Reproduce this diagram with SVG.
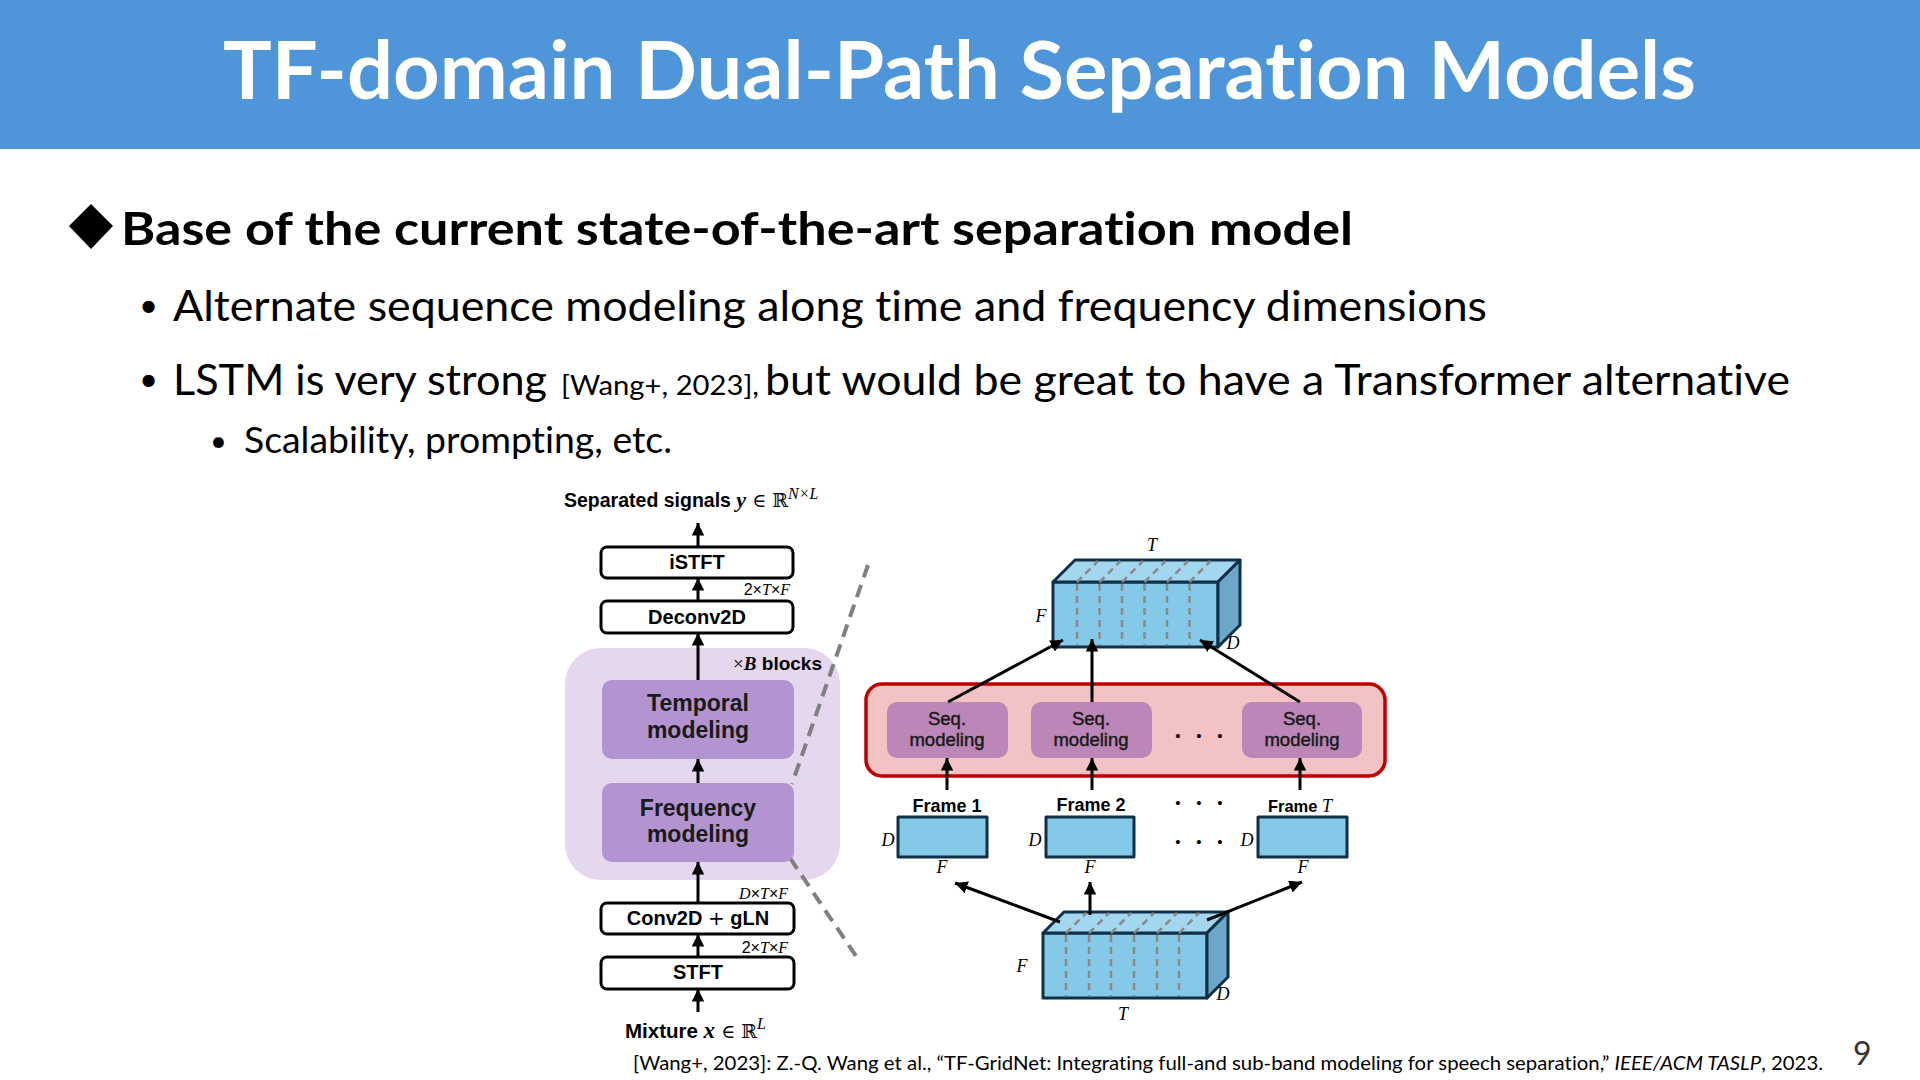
<svg xmlns="http://www.w3.org/2000/svg" width="1920" height="1080" viewBox="0 0 1920 1080">
<defs>
<marker id="ah" viewBox="0 0 10 10" refX="10" refY="5" markerWidth="4.2" markerHeight="4.2" orient="auto" markerUnits="strokeWidth"><path d="M0,0 L10,5 L0,10 z" fill="#000"/></marker>
<style>
.slide{font-family:Lato,"Open Sans","Liberation Sans",sans-serif;fill:#000;font-variant-ligatures:none;font-feature-settings:"liga" 0,"dlig" 0}
.dg{font-family:"Liberation Sans",Arial,sans-serif;fill:#000}
.b{font-weight:bold}
.m{font-family:"Liberation Serif","Times New Roman",serif;font-style:italic}
.box{fill:#fff;stroke:#000;stroke-width:3}
.blk{fill:#B194D0}
.seq{fill:#BC86B8}
.st{fill:#1a1a1a;stroke:#1a1a1a;stroke-width:0.45}
.face{stroke:#0E3147;stroke-width:3;stroke-linejoin:round}
.dash{stroke:#8A8A8A;stroke-width:2.5;stroke-dasharray:7 5;fill:none}
.arr{stroke:#000;stroke-width:3;fill:none;marker-end:url(#ah)}
.div{stroke:#808080;stroke-width:4;stroke-dasharray:13 8;fill:none}
.dot{font-family:"Liberation Sans",Arial,sans-serif;font-size:15px;fill:#000}
</style>
</defs>
<rect width="1920" height="1080" fill="#fff"/>
<g id="header">
<rect x="0" y="0" width="1920" height="149" fill="#4F95D9"/>
<text class="slide b" x="223" y="99" font-size="80" style="fill:#fff" textLength="1473" lengthAdjust="spacingAndGlyphs">TF-domain Dual-Path Separation Models</text>
</g>
<g id="bullets">
<polygon points="91,204 113,226 91,249 69,226" fill="#000"/>
<text class="slide b" x="121" y="245" font-size="45" textLength="1232" lengthAdjust="spacingAndGlyphs">Base of the current state-of-the-art separation model</text>
<text class="slide" x="139" y="317" font-size="33">•</text>
<text class="slide" x="173" y="321" font-size="43" textLength="1314" lengthAdjust="spacingAndGlyphs">Alternate sequence modeling along time and frequency dimensions</text>
<text class="slide" x="139" y="391" font-size="33">•</text>
<text class="slide" x="173" y="395" font-size="43" textLength="374" lengthAdjust="spacingAndGlyphs">LSTM is very strong</text>
<text class="slide" x="561" y="395" font-size="26" textLength="198" lengthAdjust="spacingAndGlyphs">[Wang+, 2023],</text>
<text class="slide" x="765" y="395" font-size="43" textLength="1025" lengthAdjust="spacingAndGlyphs">but would be great to have a Transformer alternative</text>
<text class="slide" x="210" y="451" font-size="29">•</text>
<text class="slide" x="244" y="453" font-size="36" textLength="428" lengthAdjust="spacingAndGlyphs">Scalability, prompting, etc.</text>
</g>
<g id="footnote">
<text class="slide" x="633" y="1070" font-size="20" textLength="1190" lengthAdjust="spacingAndGlyphs">[Wang+, 2023]: Z.-Q. Wang et al., “TF-GridNet: Integrating full-and sub-band modeling for speech separation,” <tspan font-style="italic">IEEE/ACM TASLP</tspan>, 2023.</text>
<text class="slide" x="1853" y="1065" font-size="32" style="fill:#333">9</text>
</g>

<g id="blocks-bg">
<rect x="565" y="648" width="275" height="232" rx="36" fill="#E4D7EE"/>
<text class="dg b" x="822" y="670" font-size="19" text-anchor="end"><tspan font-family="Liberation Serif" font-weight="normal">×</tspan><tspan class="m b">B</tspan> blocks</text>
</g>

<g id="dividers">
<line class="div" x1="868" y1="565" x2="792" y2="784"/>
<line class="div" x1="790" y1="858" x2="860" y2="962"/>
</g>

<g id="label-out">
<text class="dg b" x="564" y="507" font-size="19.5">Separated signals <tspan class="m b" font-size="22">y</tspan><tspan font-family="DejaVu Serif" font-weight="normal" font-size="19"> ∈ ℝ</tspan><tspan class="m" font-weight="normal" font-size="16" dy="-8">N×L</tspan></text>
</g>
<g id="istft">
<rect class="box" x="601" y="547" width="192" height="31" rx="6"/>
<text class="dg b" x="697" y="569" font-size="20" text-anchor="middle">iSTFT</text>
</g>
<g id="deconv">
<rect class="box" x="601" y="601" width="192" height="32" rx="6"/>
<text class="dg b" x="697" y="624" font-size="20" text-anchor="middle">Deconv2D</text>
<text class="dg" x="790" y="595" font-size="16" text-anchor="end" font-family="Liberation Serif">2×<tspan class="m">T</tspan>×<tspan class="m">F</tspan></text>
</g>
<g id="temporal">
<rect class="blk" x="602" y="680" width="192" height="79" rx="10"/>
<text class="dg b" x="698" y="711" font-size="23" text-anchor="middle" style="fill:#1a1a1a">Temporal</text>
<text class="dg b" x="698" y="738" font-size="23" text-anchor="middle" style="fill:#1a1a1a">modeling</text>
</g>
<g id="frequency">
<rect class="blk" x="602" y="783" width="192" height="79" rx="10"/>
<text class="dg b" x="698" y="816" font-size="23" text-anchor="middle" style="fill:#1a1a1a">Frequency</text>
<text class="dg b" x="698" y="842" font-size="23" text-anchor="middle" style="fill:#1a1a1a">modeling</text>
</g>
<g id="conv">
<rect class="box" x="601" y="903" width="193" height="31" rx="6"/>
<text class="dg b" x="698" y="925" font-size="20" text-anchor="middle">Conv2D <tspan font-weight="normal" font-family="DejaVu Sans">+</tspan> gLN</text>
<text class="dg" x="788" y="899" font-size="16" text-anchor="end" font-family="Liberation Serif"><tspan class="m">D</tspan>×<tspan class="m">T</tspan>×<tspan class="m">F</tspan></text>
</g>
<g id="stft">
<rect class="box" x="601" y="957" width="193" height="32" rx="6"/>
<text class="dg b" x="698" y="979" font-size="20" text-anchor="middle">STFT</text>
<text class="dg" x="788" y="953" font-size="16" text-anchor="end" font-family="Liberation Serif">2×<tspan class="m">T</tspan>×<tspan class="m">F</tspan></text>
</g>
<g id="label-in">
<text class="dg b" x="625" y="1038" font-size="20.5">Mixture <tspan class="m b" font-size="23">x</tspan><tspan font-family="DejaVu Serif" font-weight="normal" font-size="19"> ∈ ℝ</tspan><tspan class="m" font-weight="normal" font-size="16" dy="-9">L</tspan></text>
</g>

<g id="cube-top">
<rect class="face" x="1053" y="582" width="165" height="65" fill="#85C9E9"/>
<polygon class="face" points="1053,582 1075,560 1240,560 1218,582" fill="#A3D6EF"/>
<polygon class="face" points="1218,582 1240,560 1240,625 1218,647" fill="#6BA7C7"/>
<path class="dash" d="M1077,584V645M1099.5,584V645M1122,584V645M1144.5,584V645M1167,584V645M1189.5,584V645M1077,582l21,-21M1099.5,582l21,-21M1122,582l21,-21M1144.5,582l21,-21M1167,582l21,-21M1189.5,582l21,-21"/>
<text class="m" x="1152" y="551" font-size="18" text-anchor="middle">T</text>
<text class="m" x="1041" y="622" font-size="18" text-anchor="middle">F</text>
<text class="m" x="1233" y="649" font-size="18" text-anchor="middle">D</text>
</g>

<g id="seq-group">
<rect x="866" y="684" width="519" height="92" rx="16" fill="#F2C2C5" stroke="#C00000" stroke-width="3.5"/>
<text class="dot" y="741" text-anchor="middle"><tspan x="1178">•</tspan><tspan x="1199">•</tspan><tspan x="1220">•</tspan></text>
</g>
<g id="seq1">
<rect class="seq" x="887" y="702" width="121" height="56" rx="10"/>
<text class="dg st" x="947" y="725" font-size="18.5" text-anchor="middle">Seq.</text>
<text class="dg st" x="947" y="746" font-size="18.5" text-anchor="middle">modeling</text>
</g>
<g id="seq2">
<rect class="seq" x="1031" y="702" width="121" height="56" rx="10"/>
<text class="dg st" x="1091" y="725" font-size="18.5" text-anchor="middle">Seq.</text>
<text class="dg st" x="1091" y="746" font-size="18.5" text-anchor="middle">modeling</text>
</g>
<g id="seq3">
<rect class="seq" x="1242" y="702" width="120" height="56" rx="10"/>
<text class="dg st" x="1302" y="725" font-size="18.5" text-anchor="middle">Seq.</text>
<text class="dg st" x="1302" y="746" font-size="18.5" text-anchor="middle">modeling</text>
</g>

<g id="frame1">
<text class="dg b" x="947" y="812" font-size="18" text-anchor="middle">Frame 1</text>
<rect class="face" x="898" y="817" width="89" height="40" fill="#85C9E9"/>
<text class="m" x="888" y="846" font-size="18" text-anchor="middle">D</text>
<text class="m" x="942" y="873" font-size="18" text-anchor="middle">F</text>
</g>
<g id="frame2">
<text class="dg b" x="1091" y="811" font-size="18" text-anchor="middle">Frame 2</text>
<rect class="face" x="1046" y="817" width="88" height="40" fill="#85C9E9"/>
<text class="m" x="1035" y="846" font-size="18" text-anchor="middle">D</text>
<text class="m" x="1090" y="873" font-size="18" text-anchor="middle">F</text>
</g>
<g id="frameT">
<text class="dg b" x="1300" y="812" font-size="16.5" text-anchor="middle">Frame <tspan class="m" font-weight="normal" font-size="18">T</tspan></text>
<rect class="face" x="1258" y="817" width="89" height="40" fill="#85C9E9"/>
<text class="m" x="1247" y="846" font-size="18" text-anchor="middle">D</text>
<text class="m" x="1303" y="873" font-size="18" text-anchor="middle">F</text>
</g>
<g id="dots">
<text class="dot" y="808" text-anchor="middle"><tspan x="1178">•</tspan><tspan x="1199">•</tspan><tspan x="1220">•</tspan></text>
<text class="dot" y="847" text-anchor="middle"><tspan x="1178">•</tspan><tspan x="1199">•</tspan><tspan x="1220">•</tspan></text>
</g>

<g id="cube-bottom">
<rect class="face" x="1043" y="933" width="164" height="65" fill="#85C9E9"/>
<polygon class="face" points="1043,933 1064,912 1228,912 1207,933" fill="#A3D6EF"/>
<polygon class="face" points="1207,933 1228,912 1228,977 1207,998" fill="#6BA7C7"/>
<path class="dash" d="M1066,935V996M1089,935V996M1111,935V996M1134,935V996M1157,935V996M1179,935V996M1066,933l20,-20M1089,933l20,-20M1111,933l20,-20M1134,933l20,-20M1157,933l20,-20M1179,933l20,-20"/>
<text class="m" x="1022" y="972" font-size="18" text-anchor="middle">F</text>
<text class="m" x="1123" y="1020" font-size="18" text-anchor="middle">T</text>
<text class="m" x="1223" y="1000" font-size="18" text-anchor="middle">D</text>
</g>

<g id="connectors">
<line class="arr" x1="698" y1="547" x2="698" y2="523"/>
<line class="arr" x1="698" y1="601" x2="698" y2="578"/>
<line class="arr" x1="698" y1="680" x2="698" y2="633"/>
<line class="arr" x1="698" y1="783" x2="698" y2="759"/>
<line class="arr" x1="698" y1="903" x2="698" y2="862"/>
<line class="arr" x1="698" y1="957" x2="698" y2="934"/>
<line class="arr" x1="698" y1="1012" x2="698" y2="989"/>
<line class="arr" x1="948" y1="702" x2="1063" y2="640"/>
<line class="arr" x1="1092" y1="702" x2="1092" y2="639"/>
<line class="arr" x1="1300" y1="702" x2="1200" y2="640"/>
<line class="arr" x1="947" y1="790" x2="947" y2="758"/>
<line class="arr" x1="1092" y1="790" x2="1092" y2="758"/>
<line class="arr" x1="1300" y1="790" x2="1300" y2="758"/>
<line class="arr" x1="1060" y1="922" x2="955" y2="883"/>
<line class="arr" x1="1090" y1="915" x2="1090" y2="882"/>
<line class="arr" x1="1207" y1="920" x2="1302" y2="882"/>
</g>
</svg>
